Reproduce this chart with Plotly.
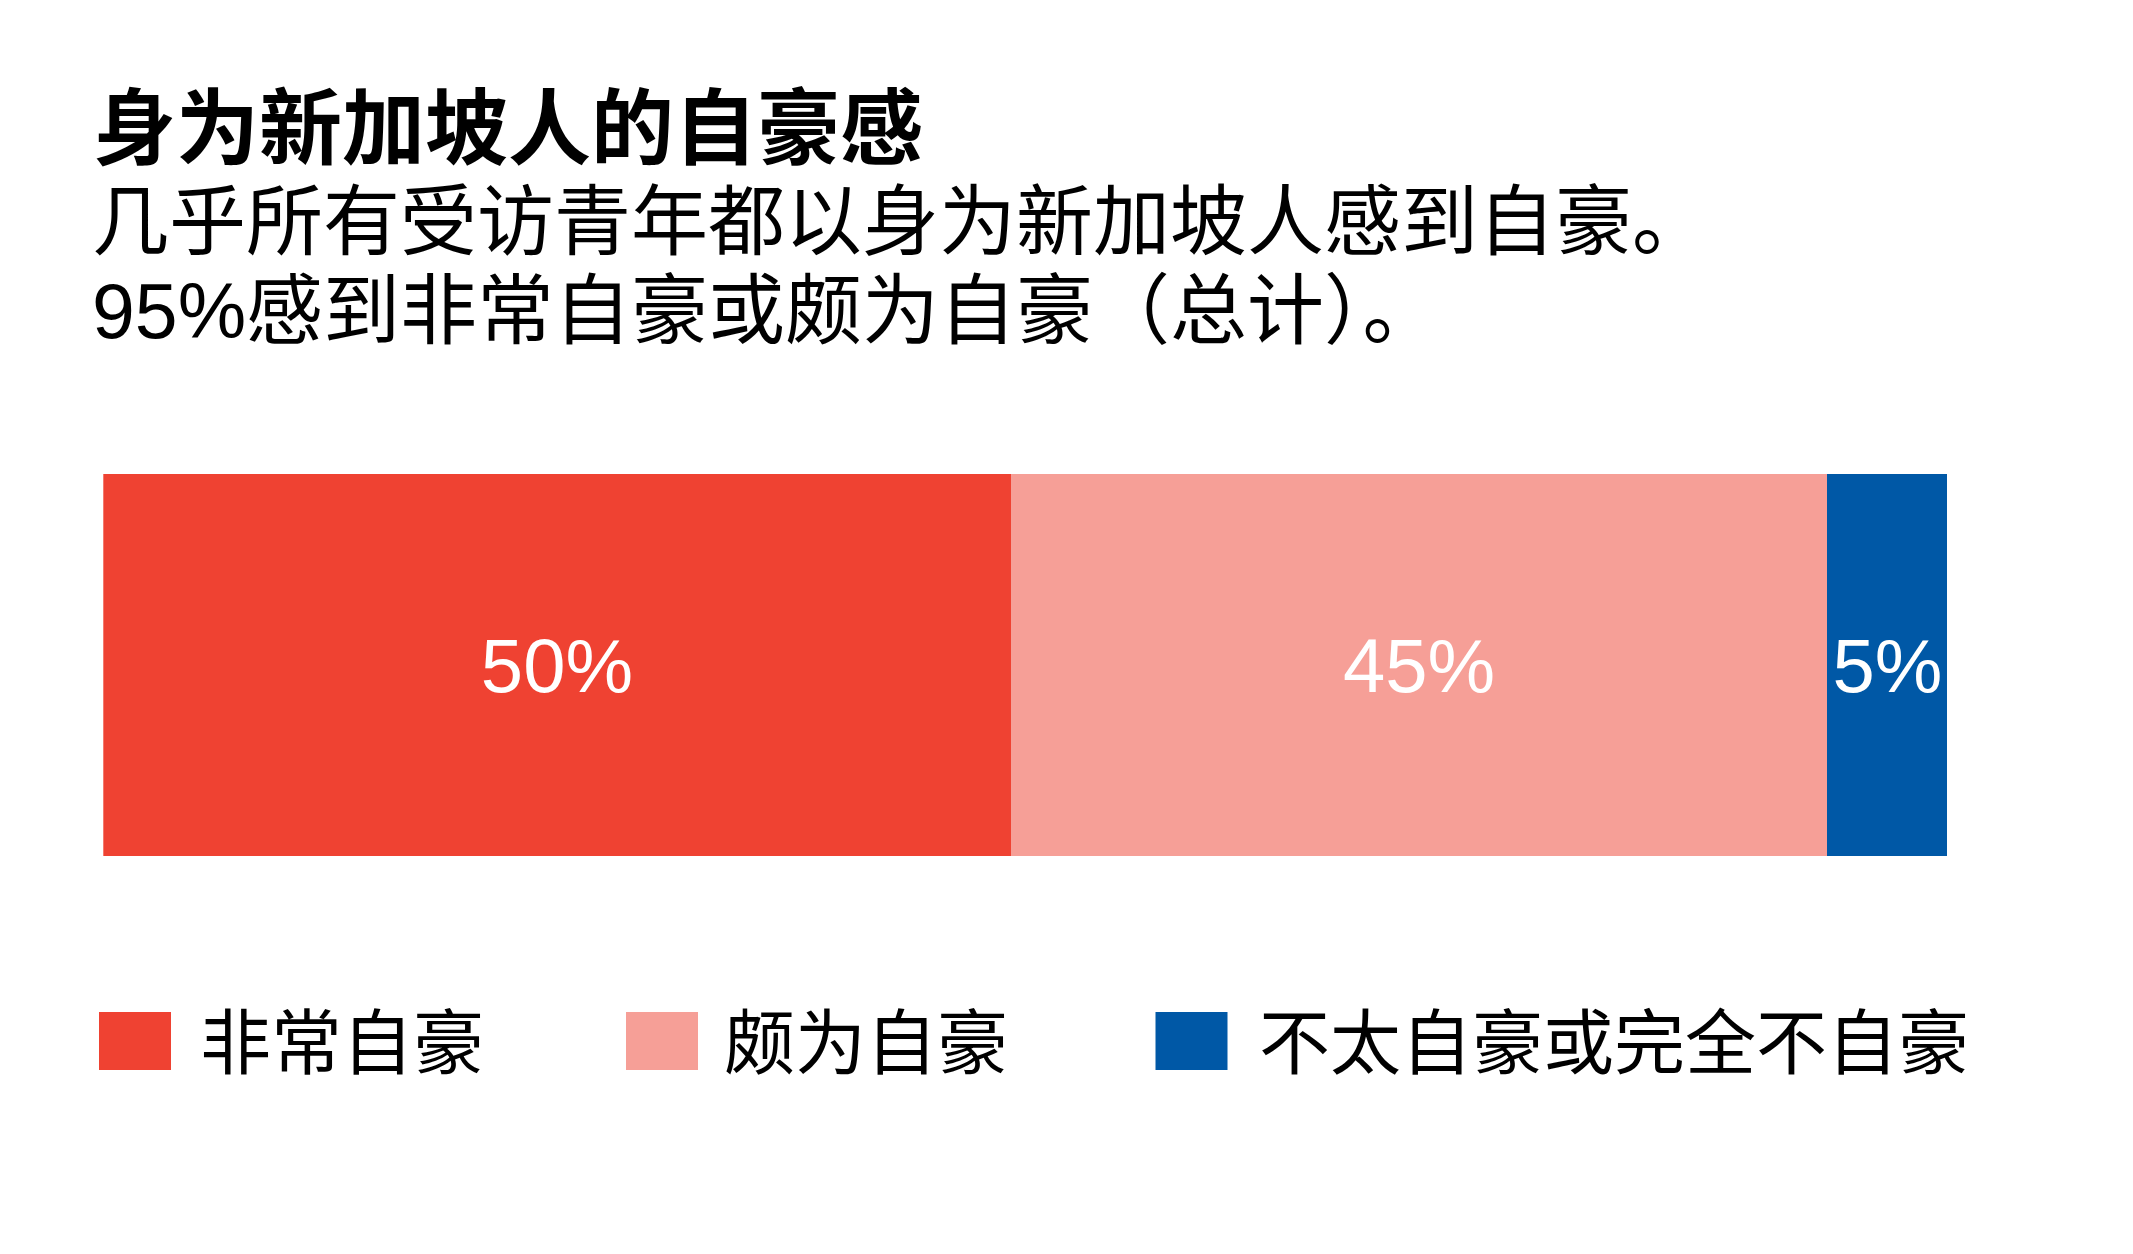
import plotly.graph_objects as go

# values (segment widths), with the printed labels
categories = ["非常自豪", "颇为自豪", "不太自豪或完全不自豪"]
shares = [49.2, 44.3, 6.5]
labels = ["50%", "45%", "5%"]

title_text = "身为新加坡人的自豪感"
subtitle_lines = ["几乎所有受访青年都以身为新加坡人感到自豪。",
                  "95%感到非常自豪或颇为自豪（总计）。"]

COLORS = ["#EF4232", "#F69F97", "#0058A6"]
W, H = 2133, 1254
OFFSET = 8  # page body margin
FONT = "Liberation Sans, Arial, Noto Sans CJK SC, sans-serif"


def px(x, y):
    """pixel position in the screenshot -> paper coordinates"""
    return (x - OFFSET) / W, 1 - (y - OFFSET) / H


fig = go.Figure()
for cat, share, lab, color in zip(categories, shares, labels, COLORS):
    fig.add_trace(go.Bar(x=[share], y=[0], orientation="h", width=1, name=cat,
                         marker=dict(color=color, line=dict(width=0)),
                         text=[lab], textposition="inside",
                         insidetextanchor="middle", textangle=0, constraintext="none",
                         insidetextfont=dict(family=FONT, size=76, color="white"),
                         hoverinfo="skip", showlegend=False))

x0, _ = px(103.3, 0)
x1, _ = px(1947.3, 0)
_, y_top = px(0, 474)
_, y_bot = px(0, 856)

annotations = []
# title + subtitle
tx, ty = px(91, 130)
annotations.append(dict(x=tx, y=ty, xref="paper", yref="paper",
                        text="<b>" + title_text + "</b>", showarrow=False,
                        xanchor="left", yanchor="middle",
                        font=dict(family=FONT, size=83, color="black")))
for line, cy in zip(subtitle_lines, [222, 311]):
    lx, ly = px(90, cy)
    annotations.append(dict(x=lx, y=ly, xref="paper", yref="paper",
                            text=line, showarrow=False,
                            xanchor="left", yanchor="middle",
                            font=dict(family=FONT, size=77, color="black")))

# legend built by hand so the swatches can be large
shapes = []
swatch_left = [99, 626, 1155.5]
text_left = [198, 722, 1257]
for cat, color, left, tl in zip(categories, COLORS, swatch_left, text_left):
    sx0, sy0 = px(left, 1070)
    sx1, sy1 = px(left + 72, 1012)
    shapes.append(dict(type="rect", xref="paper", yref="paper", x0=sx0, x1=sx1, y0=sy0, y1=sy1,
                       fillcolor=color, line=dict(width=0)))
    lx, ly = px(tl, 1043)
    annotations.append(dict(x=lx, y=ly, xref="paper", yref="paper",
                            text=cat, showarrow=False,
                            xanchor="left", yanchor="middle",
                            font=dict(family=FONT, size=71, color="black")))

fig.update_layout(width=W, height=H, barmode="stack",
                  margin=dict(l=0, r=0, t=0, b=0),
                  paper_bgcolor="white", plot_bgcolor="white",
                  xaxis=dict(domain=[x0, x1], range=[0, 100], visible=False),
                  yaxis=dict(domain=[y_bot, y_top], range=[-0.5, 0.5], visible=False),
                  annotations=annotations, shapes=shapes, showlegend=False)

fig.write_html("out.html")
